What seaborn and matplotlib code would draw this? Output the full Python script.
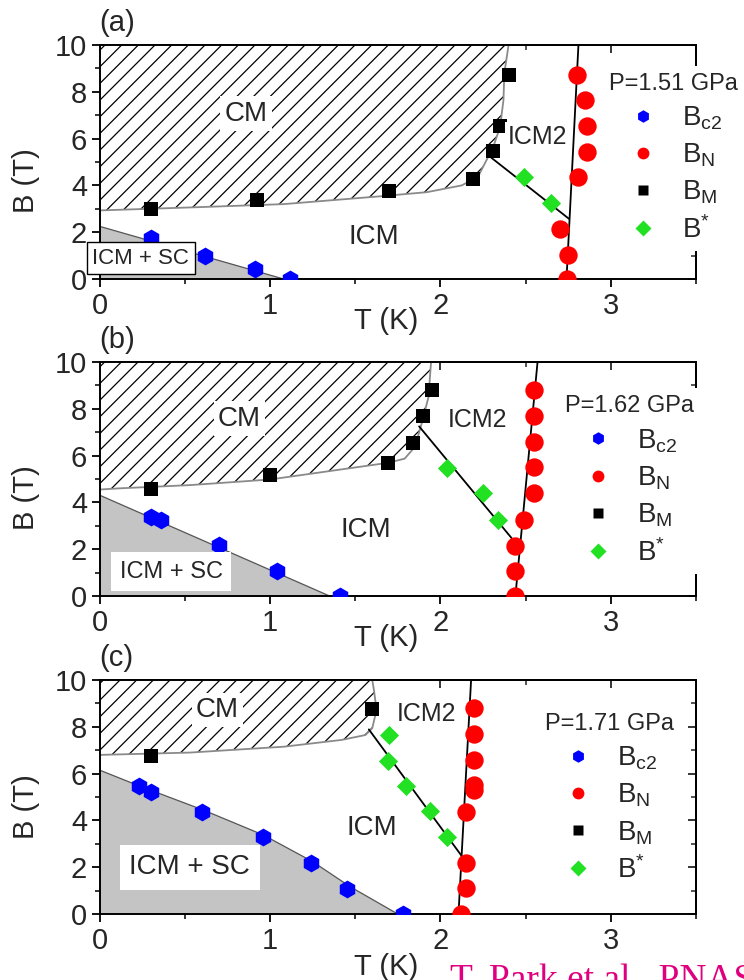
import numpy as np
import pandas as pd
import matplotlib
matplotlib.use("Agg")
import matplotlib.pyplot as plt
from matplotlib.lines import Line2D
from matplotlib.ticker import MultipleLocator
import seaborn as sns

# ---------------- data ----------------
panel_tags = ["(a)", "(b)", "(c)"]
pressures = ["P=1.51 GPa", "P=1.62 GPa", "P=1.71 GPa"]

# panel (a)
a_bc2_T = [0.30, 0.62, 0.91, 1.12]
a_bc2_B = [1.76, 1.00, 0.43, 0.0]
a_bn_T = [2.80, 2.85, 2.86, 2.86, 2.81, 2.70, 2.75, 2.74]
a_bn_B = [8.71, 7.67, 6.54, 5.43, 4.36, 2.14, 1.03, 0.0]
a_bm_T = [0.30, 0.925, 1.70, 2.19, 2.31, 2.35, 2.40]
a_bm_B = [3.00, 3.36, 3.76, 4.29, 5.47, 6.54, 8.71]
a_bs_T = [2.49, 2.65]
a_bs_B = [4.36, 3.26]
a_cm_T = [0.0, 0.58, 1.08, 1.64, 1.92, 2.125, 2.22, 2.26, 2.31, 2.35, 2.37, 2.375, 2.40]
a_cm_B = [2.93, 3.07, 3.20, 3.53, 3.71, 4.00, 4.36, 4.93, 5.64, 6.50, 7.64, 8.79, 10.0]
a_sc_T = [0.0, 1.08, 1.50]
a_sc_B = [2.25, 0.0, 0.0]
a_tn_T = [2.74, 2.81]
a_tn_B = [0.0, 10.0]
a_bstar_T = [2.28, 2.755]
a_bstar_B = [5.29, 2.57]

# panel (b)
b_bc2_T = [0.30, 0.36, 0.70, 1.04, 1.41]
b_bc2_B = [3.39, 3.24, 2.18, 1.08, 0.0]
b_bn_T = [2.55, 2.55, 2.55, 2.55, 2.55, 2.49, 2.44, 2.44, 2.44]
b_bn_B = [8.82, 7.68, 6.59, 5.52, 4.41, 3.27, 2.15, 1.08, 0.0]
b_bm_T = [0.30, 1.00, 1.69, 1.84, 1.90, 1.95]
b_bm_B = [4.57, 5.16, 5.69, 6.54, 7.68, 8.79]
b_bs_T = [2.04, 2.25, 2.34]
b_bs_B = [5.49, 4.42, 3.27]
b_cm_T = [0.0, 0.11, 0.53, 1.00, 1.69, 1.79, 1.85, 1.89, 1.93, 1.945]
b_cm_B = [4.55, 4.60, 4.74, 4.98, 5.69, 5.87, 6.37, 7.37, 8.50, 10.0]
b_sc_T = [0.0, 1.35, 1.66]
b_sc_B = [4.31, 0.0, 0.0]
b_tn_T = [2.44, 2.57]
b_tn_B = [0.0, 10.0]
b_bstar_T = [1.875, 2.44]
b_bstar_B = [7.25, 2.28]

# panel (c)
c_bc2_T = [0.23, 0.30, 0.60, 0.96, 1.24, 1.45, 1.78]
c_bc2_B = [5.47, 5.23, 4.37, 3.28, 2.17, 1.08, 0.0]
c_bn_T = [2.20, 2.20, 2.20, 2.20, 2.20, 2.15, 2.15, 2.15, 2.12]
c_bn_B = [8.79, 7.68, 6.58, 5.51, 5.30, 4.37, 2.17, 1.10, 0.0]
c_bm_T = [0.30, 1.60]
c_bm_B = [6.75, 8.76]
c_bs_T = [1.70, 1.69, 1.80, 1.94, 2.04]
c_bs_B = [7.65, 6.55, 5.48, 4.40, 3.28]
c_cm_T = [0.0, 0.53, 1.08, 1.42, 1.56, 1.60, 1.625, 1.61, 1.60]
c_cm_B = [6.80, 6.90, 7.15, 7.44, 7.65, 7.94, 8.72, 9.57, 10.0]
c_sc_T = [0.0, 0.22, 0.61, 0.96, 1.25, 1.47, 1.75, 1.94]
c_sc_B = [6.15, 5.51, 4.44, 3.38, 2.24, 1.17, 0.0, 0.0]
c_tn_T = [2.106, 2.18]
c_tn_B = [0.0, 10.0]
c_bstar_T = [1.58, 2.125]
c_bstar_B = [7.89, 2.48]

# region labels (T, B)
cm_lab = [(0.86, 7.07), (0.82, 7.58), (0.69, 8.72)]
icm_lab = [(1.61, 1.79), (1.56, 2.82), (1.60, 3.66)]
icm2_lab = [(2.57, 6.07), (2.22, 7.54), (1.92, 8.55)]
sc_lab = [(0.24, 0.89), (0.42, 1.04), (0.53, 2.0)]

panels = [
    dict(bc2=(a_bc2_T, a_bc2_B), bn=(a_bn_T, a_bn_B), bm=(a_bm_T, a_bm_B), bs=(a_bs_T, a_bs_B),
         cm=(a_cm_T, a_cm_B), sc=(a_sc_T, a_sc_B), tn=(a_tn_T, a_tn_B), bl=(a_bstar_T, a_bstar_B)),
    dict(bc2=(b_bc2_T, b_bc2_B), bn=(b_bn_T, b_bn_B), bm=(b_bm_T, b_bm_B), bs=(b_bs_T, b_bs_B),
         cm=(b_cm_T, b_cm_B), sc=(b_sc_T, b_sc_B), tn=(b_tn_T, b_tn_B), bl=(b_bstar_T, b_bstar_B)),
    dict(bc2=(c_bc2_T, c_bc2_B), bn=(c_bn_T, c_bn_B), bm=(c_bm_T, c_bm_B), bs=(c_bs_T, c_bs_B),
         cm=(c_cm_T, c_cm_B), sc=(c_sc_T, c_sc_B), tn=(c_tn_T, c_tn_B), bl=(c_bstar_T, c_bstar_B)),
]

# ---------------- style ----------------
sns.set_theme(style="ticks")
plt.rcParams["font.family"] = ["Liberation Sans", "DejaVu Sans"]
plt.rcParams["mathtext.default"] = "regular"
plt.rcParams["hatch.linewidth"] = 0.9

BLUE = "#0000ff"
RED = "#ff0000"
BLACK = "#000000"
GREEN = "#22e022"
GRAY = "#c4c4c4"

fig = plt.figure(figsize=(7.44, 9.8), dpi=100)
left, width, height = 0.1339, 0.8016, 0.2388
bottoms = [0.7153, 0.3918, 0.0673]
leg_anchor = [(0.843, 0.912), (0.768, 0.887), (0.735, 0.889)]
xlab_y = [-0.12, -0.12, -0.165]
ylab_y = [0.42, 0.42, 0.46]
sc_fs = [16, 17, 20]

for i, p in enumerate(panels):
    ax = fig.add_axes([left, bottoms[i], width, height])
    ax.set_xlim(0, 3.5)
    ax.set_ylim(0, 10)

    # CM hatched region
    cmT, cmB = p["cm"]
    polyT = list(cmT) + [0.0]
    polyB = list(cmB) + [10.0]
    ax.fill(polyT, polyB, facecolor="white", edgecolor="black", linewidth=0,
            hatch="//", zorder=1)
    ax.plot(cmT, cmB, color="#8a8a8a", lw=1.3, zorder=1.5)

    # ICM + SC region
    scT, scB = p["sc"]
    ax.fill(list(scT) + [0.0], list(scB) + [0.0], facecolor=GRAY, edgecolor="none", zorder=1)
    ax.plot(scT, scB, color="#555555", lw=0.9, zorder=1.5)

    # phase lines
    ax.plot(*p["tn"], color="black", lw=1.3, zorder=2)
    ax.plot(*p["bl"], color="black", lw=1.3, zorder=2)

    # data points
    sns.scatterplot(x=p["bc2"][0], y=p["bc2"][1], ax=ax, marker="h", color=BLUE, s=165,
                    linewidth=0, zorder=4, legend=False)
    sns.scatterplot(x=p["bn"][0], y=p["bn"][1], ax=ax, marker="o", color=RED, s=175,
                    linewidth=0, zorder=4, legend=False)
    sns.scatterplot(x=p["bm"][0], y=p["bm"][1], ax=ax, marker="s", color=BLACK, s=110,
                    linewidth=0, zorder=4, legend=False)
    sns.scatterplot(x=p["bs"][0], y=p["bs"][1], ax=ax, marker="D", color=GREEN, s=95,
                    linewidth=0, zorder=4, legend=False)

    # region labels
    ax.text(*cm_lab[i], "CM", fontsize=20, ha="center", va="center", zorder=5,
            bbox=dict(boxstyle="square,pad=0.15", fc="white", ec="none"))
    ax.text(*icm_lab[i], "ICM", fontsize=20, ha="center", va="center", zorder=5)
    ax.text(*icm2_lab[i], "ICM2", fontsize=18, ha="center", va="center", zorder=5,
            bbox=dict(boxstyle="square,pad=0.1", fc="white", ec="none"))
    if i == 0:
        box = dict(boxstyle="square,pad=0.25", fc="white", ec="black", lw=1.0)
    else:
        box = dict(boxstyle="square,pad=0.35", fc="white", ec="none")
    ax.text(*sc_lab[i], "ICM + SC", fontsize=sc_fs[i], ha="center", va="center",
            zorder=6, bbox=box, clip_on=False)

    # axes styling
    for s in ax.spines.values():
        s.set_linewidth(1.4)
        s.set_color("black")
    ax.xaxis.set_major_locator(MultipleLocator(1))
    ax.xaxis.set_minor_locator(MultipleLocator(0.5))
    ax.yaxis.set_major_locator(MultipleLocator(2))
    ax.yaxis.set_minor_locator(MultipleLocator(1))
    ax.tick_params(which="major", direction="out", length=6, width=1.3, labelsize=21,
                   pad=3, left=True, bottom=True, top=False, right=False, color="black")
    ax.tick_params(which="minor", direction="out", length=3.5, width=1.1,
                   left=True, bottom=True, top=False, right=False, color="black")
    ax2 = ax.secondary_xaxis("top")
    ax2.xaxis.set_major_locator(MultipleLocator(1))
    ax2.xaxis.set_minor_locator(MultipleLocator(0.5))
    ax2.tick_params(which="major", direction="in", length=6, width=1.3, labeltop=False)
    ax2.tick_params(which="minor", direction="in", length=3.5, width=1.1)
    ax3 = ax.secondary_yaxis("right")
    ax3.yaxis.set_major_locator(MultipleLocator(2))
    ax3.yaxis.set_minor_locator(MultipleLocator(1))
    ax3.tick_params(which="major", direction="in", length=6, width=1.3, labelright=False)
    ax3.tick_params(which="minor", direction="in", length=3.5, width=1.1)
    for a in (ax2, ax3):
        for s in a.spines.values():
            s.set_linewidth(1.4)

    ax.set_xlabel("T (K)", fontsize=21)
    ax.xaxis.set_label_coords(0.48, xlab_y[i])
    ax.set_ylabel("B (T)", fontsize=21)
    ax.yaxis.set_label_coords(-0.1, ylab_y[i])

    ax.text(0.0, 1.035, panel_tags[i], transform=ax.transAxes, fontsize=21,
            ha="left", va="bottom")

    handles = [
        Line2D([], [], ls="", marker="h", color=BLUE, mec="none", ms=9),
        Line2D([], [], ls="", marker="o", color=RED, mec="none", ms=8.5),
        Line2D([], [], ls="", marker="s", color=BLACK, mec="none", ms=7),
        Line2D([], [], ls="", marker="D", color=GREEN, mec="none", ms=8),
    ]
    labels = [r"B$_{c2}$", r"B$_{N}$", r"B$_{M}$", r"B$^{*}$"]
    leg = ax.legend(handles, labels, title=pressures[i], loc="upper left",
                    bbox_to_anchor=leg_anchor[i], frameon=True, fancybox=False,
                    facecolor="white", edgecolor="none", framealpha=1.0,
                    fontsize=20, title_fontsize=17, alignment="left",
                    handlelength=2.4, handletextpad=0.2, labelspacing=0.35,
                    borderpad=0.25, borderaxespad=0.0)
    leg.set_zorder(10)

fig.text(450 / 744, -0.010, "T. Park et al., PNAS", color="#e0007f", fontsize=27,
         family=["Liberation Serif", "DejaVu Serif"], ha="left", va="baseline")

fig.savefig("out.png", dpi=100)
